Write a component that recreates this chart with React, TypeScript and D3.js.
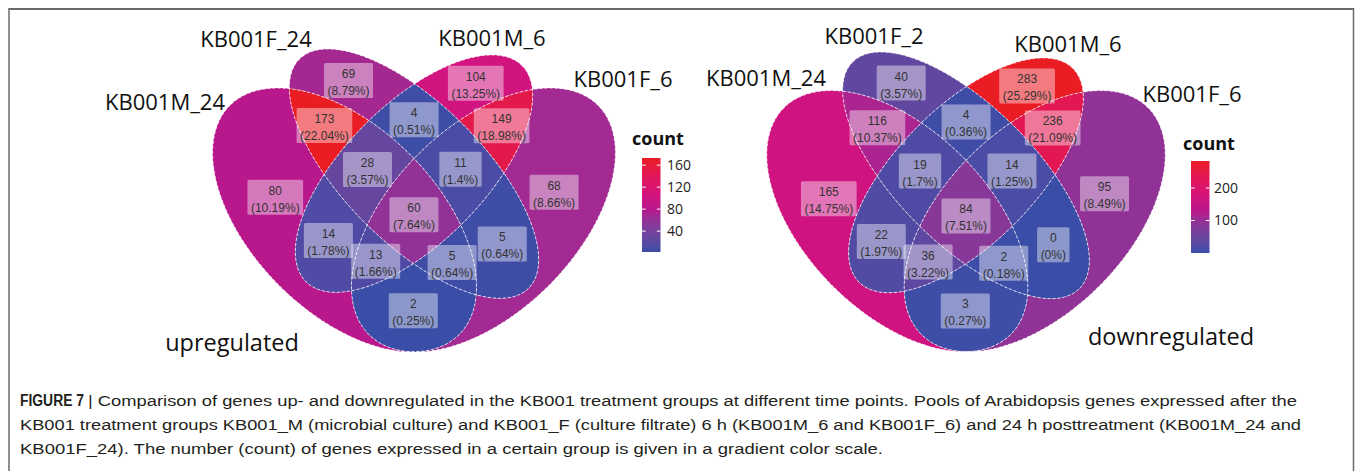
import React from "react";
import * as d3 from "d3";

const W = 1355;
const H = 471;

// ---------- data ----------
const REGION_KEYS = ["A", "B", "C", "D", "AB", "AC", "AD", "BC", "BD", "CD", "ABC", "ABD", "ACD", "BCD", "ABCD"];
const UP_SETS = ["KB001M_24", "KB001F_24", "KB001M_6", "KB001F_6"];
const UP_COUNTS = [80, 69, 104, 68, 173, 14, 2, 4, 5, 149, 28, 5, 13, 11, 60];
const UP_TICKS = [40, 80, 120, 160];
const DOWN_SETS = ["KB001M_24", "KB001F_2", "KB001M_6", "KB001F_6"];
const DOWN_COUNTS = [165, 40, 283, 95, 116, 22, 3, 4, 0, 236, 19, 2, 36, 14, 84];
const DOWN_TICKS = [100, 200];

const CAPTION_BOLD = "FIGURE 7";
const CAPTION_LINES = [
  "| Comparison of genes up- and downregulated in the KB001 treatment groups at different time points. Pools of Arabidopsis genes expressed after the",
  "KB001 treatment groups KB001_M (microbial culture) and KB001_F (culture filtrate) 6 h (KB001M_6 and KB001F_6) and 24 h posttreatment (KB001M_24 and",
  "KB001F_24). The number (count) of genes expressed in a certain group is given in a gradient color scale.",
];

// ---------- geometry (ggVennDiagram 4-set ellipses: cx, cy, a, b, rotation) ----------
const ELLIPSES: number[][] = [
  [0.35, 0.47, 0.35, 0.2, 135],
  [0.5, 0.57, 0.35, 0.15, 135],
  [0.5, 0.57, 0.33, 0.15, 45],
  [0.65, 0.47, 0.35, 0.2, 45],
];

const STOP_POS = [0, 0.15, 0.33, 0.45, 0.6, 0.8, 1];
const STOP_COLORS = ["#3A4EA8", "#6447A0", "#8F3397", "#B8178C", "#D21480", "#E1175A", "#EA1D25"];

const LABEL_FONT = "12px 'Liberation Sans', Arial, sans-serif";
let ctx: CanvasRenderingContext2D | null = null;
function textWidth(s: string, font: string) {
  if (!ctx && typeof document !== "undefined") ctx = document.createElement("canvas").getContext("2d");
  if (!ctx) return s.length * 6.5;
  ctx.font = font;
  return ctx.measureText(s).width;
}

function inEllipse(e: number[], x: number, y: number) {
  const [cx, cy, a, b, rot] = e;
  const r = (rot * Math.PI) / 180;
  const dx = x - cx;
  const dy = y - cy;
  const u = dx * Math.cos(r) + dy * Math.sin(r);
  const v = -dx * Math.sin(r) + dy * Math.cos(r);
  return (u * u) / (a * a) + (v * v) / (b * b) <= 1;
}

function ellipsePoints(e: number[], n = 360): [number, number][] {
  const [cx, cy, a, b, rot] = e;
  const r = (rot * Math.PI) / 180;
  const pts: [number, number][] = [];
  for (let i = 0; i < n; i++) {
    const t = (i / n) * 2 * Math.PI;
    pts.push([
      cx + a * Math.cos(t) * Math.cos(r) - b * Math.sin(t) * Math.sin(r),
      cy + a * Math.cos(t) * Math.sin(r) + b * Math.sin(t) * Math.cos(r),
    ]);
  }
  return pts;
}

function keyToMask(k: string) {
  let m = 0;
  for (const ch of k) m |= 1 << (ch.charCodeAt(0) - 65);
  return m;
}

// centroids of every region in data space
const CENTROIDS: Record<number, [number, number]> = (() => {
  const acc: Record<number, [number, number, number]> = {};
  const step = 0.0025;
  for (let x = 0; x <= 1; x += step) {
    for (let y = 0; y <= 1; y += step) {
      let m = 0;
      for (let i = 0; i < 4; i++) if (inEllipse(ELLIPSES[i], x, y)) m |= 1 << i;
      if (!m) continue;
      if (!acc[m]) acc[m] = [0, 0, 0];
      acc[m][0] += x;
      acc[m][1] += y;
      acc[m][2] += 1;
    }
  }
  const out: Record<number, [number, number]> = {};
  for (const k in acc) out[+k] = [acc[k][0] / acc[k][2], acc[k][1] / acc[k][2]];
  return out;
})();

const TOP_Y = d3.max(ELLIPSES, (e) => {
  const r = (e[4] * Math.PI) / 180;
  return e[1] + Math.sqrt(e[2] * e[2] * Math.sin(r) ** 2 + e[3] * e[3] * Math.cos(r) ** 2);
}) as number;

type Layout = {
  id: string;
  cx: number;
  top: number;
  scale: number;
  setLabels: { x: number; y: number }[];
  sub: { text: string; x: number; y: number };
  legend: { titleX: number; titleY: number; barX: number; barTop: number; barBottom: number; labelX: number };
};

function VennPanel({ sets, counts, ticks, L }: { sets: string[]; counts: number[]; ticks: number[]; L: Layout }) {
  const x = d3.scaleLinear().domain([0, 1]).range([L.cx - L.scale / 2, L.cx + L.scale / 2]);
  const y = d3.scaleLinear().domain([TOP_Y - 1, TOP_Y]).range([L.top + L.scale, L.top]);
  const minC = d3.min(counts) as number;
  const maxC = d3.max(counts) as number;
  const color = d3
    .scaleLinear<string>()
    .domain(STOP_POS.map((t) => minC + t * (maxC - minC)))
    .range(STOP_COLORS)
    .interpolate(d3.interpolateLab);
  const total = d3.sum(counts);
  const line = d3
    .line<[number, number]>()
    .x((d) => x(d[0]))
    .y((d) => y(d[1]))
    .curve(d3.curveLinearClosed);
  const paths = ELLIPSES.map((e) => line(ellipsePoints(e)) as string);
  const regions = REGION_KEYS.map((k, i) => ({ key: k, mask: keyToMask(k), count: counts[i] }));
  const legY = d3.scaleLinear().domain([minC, maxC]).range([L.legend.barBottom, L.legend.barTop]);
  const barW = 18.5;
  const gradStops = d3.range(0, 1.0001, 0.05);

  return (
    <g>
      <defs>
        {paths.map((p, i) => (
          <clipPath id={`${L.id}-c${i}`} key={i}>
            <path d={p} />
          </clipPath>
        ))}
        {regions.map((r) => (
          <mask id={`${L.id}-m${r.mask}`} key={r.mask} maskUnits="userSpaceOnUse" x={0} y={0} width={W} height={H}>
            <rect x={0} y={0} width={W} height={H} fill="white" />
            {[0, 1, 2, 3]
              .filter((i) => !(r.mask & (1 << i)))
              .map((i) => (
                <path key={i} d={paths[i]} fill="black" />
              ))}
          </mask>
        ))}
        <linearGradient id={`${L.id}-grad`} x1="0" y1="1" x2="0" y2="0">
          {gradStops.map((t) => (
            <stop key={t} offset={t} stopColor={color(minC + t * (maxC - minC))} />
          ))}
        </linearGradient>
      </defs>
      {regions.map((r) => {
        const inc = [0, 1, 2, 3].filter((i) => r.mask & (1 << i));
        let el: React.ReactElement = <path d={paths[inc[0]]} fill={color(r.count)} />;
        for (const i of inc.slice(1)) el = <g clipPath={`url(#${L.id}-c${i})`}>{el}</g>;
        return (
          <g key={r.mask} mask={r.mask === 15 ? undefined : `url(#${L.id}-m${r.mask})`}>
            {el}
          </g>
        );
      })}
      {paths.map((p, i) => (
        <path key={i} d={p} fill="none" stroke="#ffffff" strokeWidth={0.9} strokeDasharray="3 2" strokeOpacity={0.9} />
      ))}
      {regions.map((r) => {
        const c = CENTROIDS[r.mask];
        const px = x(c[0]);
        const py = y(c[1]);
        const l1 = String(r.count);
        const l2 = `(${+((r.count / total) * 100).toFixed(2)}%)`;
        const w = Math.max(textWidth(l1, LABEL_FONT), textWidth(l2, LABEL_FONT)) + 7;
        const h = 35;
        return (
          <g key={r.mask}>
            <rect x={px - w / 2} y={py - h / 2} width={w} height={h} rx={1.5} fill="#ffffff" fillOpacity={0.42} />
            <text
              x={px}
              textAnchor="middle"
              fontFamily="'Liberation Sans', Arial, sans-serif"
              fontSize={12}
              fill="#333333"
            >
              <tspan x={px} y={py - 2.5}>{l1}</tspan>
              <tspan x={px} y={py + 14.5}>{l2}</tspan>
            </text>
          </g>
        );
      })}
      {sets.map((s, i) => (
        <text
          key={s + i}
          x={L.setLabels[i].x}
          y={L.setLabels[i].y}
          textAnchor="middle"
          fontFamily="'Open Sans', sans-serif"
          fontSize={22}
          fill="#111"
        >
          {s}
        </text>
      ))}
      <text x={L.sub.x} y={L.sub.y} textAnchor="middle" fontFamily="'Open Sans', sans-serif" fontSize={23.5} fill="#111">
        {L.sub.text}
      </text>
      <text x={L.legend.titleX} y={L.legend.titleY} fontFamily="'Open Sans', sans-serif" fontWeight="bold" fontSize={18} fill="#111">
        count
      </text>
      <rect
        x={L.legend.barX}
        y={L.legend.barTop}
        width={barW}
        height={L.legend.barBottom - L.legend.barTop}
        fill={`url(#${L.id}-grad)`}
      />
      {ticks.map((t) => (
        <g key={t}>
          <line x1={L.legend.barX} x2={L.legend.barX + 3.7} y1={legY(t)} y2={legY(t)} stroke="#fff" strokeWidth={1} />
          <line
            x1={L.legend.barX + barW - 3.7}
            x2={L.legend.barX + barW}
            y1={legY(t)}
            y2={legY(t)}
            stroke="#fff"
            strokeWidth={1}
          />
          <text
            x={L.legend.labelX}
            y={legY(t) + 5}
            fontFamily="'Open Sans', sans-serif"
            fontSize={14}
            fill="#222"
          >
            {t}
          </text>
        </g>
      ))}
    </g>
  );
}

const LEFT: Layout = {
  id: "up",
  cx: 414,
  top: 49,
  scale: 463,
  setLabels: [
    { x: 165, y: 110 },
    { x: 256, y: 47 },
    { x: 492, y: 46 },
    { x: 623, y: 87 },
  ],
  sub: { text: "upregulated", x: 232, y: 351 },
  legend: { titleX: 632, titleY: 145, barX: 642, barTop: 158, barBottom: 252, labelX: 667 },
};

const RIGHT: Layout = {
  id: "down",
  cx: 966,
  top: 52,
  scale: 458,
  setLabels: [
    { x: 766, y: 86 },
    { x: 874, y: 44 },
    { x: 1068, y: 52 },
    { x: 1192, y: 102 },
  ],
  sub: { text: "downregulated", x: 1171, y: 345 },
  legend: { titleX: 1183, titleY: 150, barX: 1191, barTop: 161, barBottom: 253, labelX: 1214 },
};

export default function App() {
  const captionX = [88, 20, 20];
  const captionEnd = [1297, 1301, 883];
  const captionY = [406, 430, 454];
  return (
    <svg
      width={W}
      height={H}
      viewBox={`0 0 ${W} ${H}`}
      style={{ position: "absolute", left: 0, top: 0, background: "#fff" }}
    >
      <rect x={0} y={0} width={W} height={H} fill="#fff" />
      <line x1={9} x2={1354} y1={9} y2={9} stroke="#6a6a6a" strokeWidth={2} />
      <line x1={9} x2={9} y1={8} y2={H} stroke="#6a6a6a" strokeWidth={1.5} />
      <line x1={1353.5} x2={1353.5} y1={8} y2={H} stroke="#6a6a6a" strokeWidth={1.5} />
      <VennPanel sets={UP_SETS} counts={UP_COUNTS} ticks={UP_TICKS} L={LEFT} />
      <VennPanel sets={DOWN_SETS} counts={DOWN_COUNTS} ticks={DOWN_TICKS} L={RIGHT} />
      <text
        x={20}
        y={captionY[0]}
        fontFamily="'Liberation Sans', Arial, sans-serif"
        fontWeight="bold"
        fontSize={16}
        fill="#231f20"
        textLength={64}
        lengthAdjust="spacingAndGlyphs"
      >
        {CAPTION_BOLD}
      </text>
      {CAPTION_LINES.map((s, i) => (
        <text
          key={i}
          x={captionX[i]}
          y={captionY[i]}
          fontFamily="'Liberation Sans', Arial, sans-serif"
          fontSize={15.5}
          fill="#231f20"
          textLength={captionEnd[i] - captionX[i]}
          lengthAdjust="spacingAndGlyphs"
        >
          {s}
        </text>
      ))}
    </svg>
  );
}
